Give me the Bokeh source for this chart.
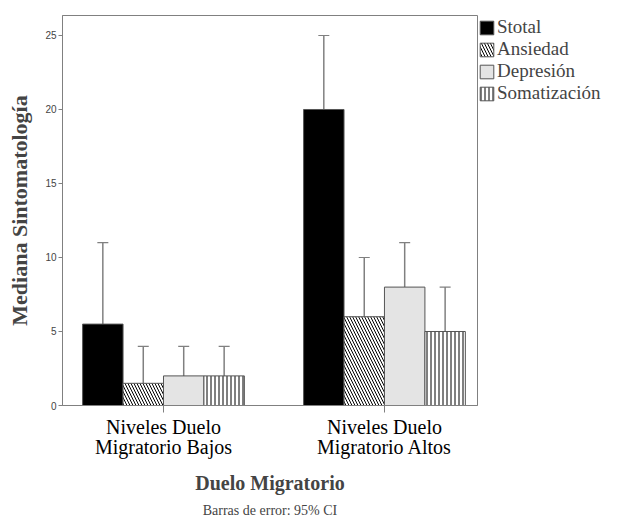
from bokeh.plotting import figure
from bokeh.models import (Range1d, FixedTicker, Legend, LegendItem, Whisker,
                          ColumnDataSource, TeeHead, Title)
from bokeh.embed import file_html
from bokeh.resources import INLINE

# ---- data ----
groups = ["Niveles Duelo\nMigratorio Bajos", "Niveles Duelo\nMigratorio Altos"]
series = ["Stotal", "Ansiedad", "Depresión", "Somatización"]
stotal = [5.5, 20.0]
ansiedad = [1.5, 6.0]
depresion = [2.0, 8.0]
somatizacion = [2.0, 5.0]
# 95% CI bounds (Stotal lower bound hidden inside its bar)
stotal_lo = [5.5, 20.0]
stotal_hi = [11.0, 25.0]
ansiedad_lo = [1.0, 4.0]
ansiedad_hi = [4.0, 10.0]
depresion_lo = [1.0, 5.0]
depresion_hi = [4.0, 11.0]
somatizacion_lo = [1.0, 3.0]
somatizacion_hi = [4.0, 8.0]
y_ticks = [0, 5, 10, 15, 20, 25]

values = [stotal, ansiedad, depresion, somatizacion]
lows = [stotal_lo, ansiedad_lo, depresion_lo, somatizacion_lo]
highs = [stotal_hi, ansiedad_hi, depresion_hi, somatizacion_hi]

# ---- styles ----
fills = ["black", "white", "#e4e4e4", "white"]
hatches = [None, "left_diagonal_line", None, "vertical_line"]
hscales = [0, 6, 0, 4]
bar_w = 0.183
offsets = [-1.5, -0.5, 0.5, 1.5]
group_pos = [1, 2]
serif = "serif"
grey = "#808080"

p = figure(frame_width=415, frame_height=390,
           x_range=Range1d(0.543, 2.421), y_range=Range1d(0, 26.35),
           output_backend="svg", toolbar_location=None,
           min_border_left=62, min_border_top=15, min_border_right=0,
           min_border_bottom=0)
p.background_fill_color = "white"
p.border_fill_color = "white"
p.outline_line_color = grey
p.xgrid.visible = False
p.ygrid.visible = False

items = []
for i, name in enumerate(series):
    xs = [g + offsets[i] * bar_w for g in group_pos]
    src = ColumnDataSource(dict(x=xs, top=values[i], lo=lows[i], hi=highs[i]))
    kw = {}
    if hatches[i]:
        kw = dict(hatch_pattern=hatches[i], hatch_color="black",
                  hatch_scale=hscales[i], hatch_weight=1)
    r = p.vbar(x="x", top="top", bottom=0, width=bar_w, source=src,
               fill_color=fills[i], line_color="#555555", line_width=1, **kw)
    items.append(LegendItem(label=name, renderers=[r]))
    lower_head = None if i == 0 else TeeHead(size=11, line_color=grey, line_width=1.2)
    w = Whisker(source=src, base="x", upper="hi", lower="lo",
                line_color=grey, line_width=1.5,
                upper_head=TeeHead(size=11, line_color=grey, line_width=1.2),
                lower_head=lower_head)
    p.add_layout(w)

legend = Legend(items=items, location="top_left", margin=0, padding=1,
                spacing=0, glyph_width=17, glyph_height=17, label_height=19,
                label_standoff=2, label_text_font=serif,
                label_text_font_size="19px", label_text_line_height=1.0,
                border_line_alpha=0, background_fill_alpha=0)
p.add_layout(legend, "right")

# y axis
p.yaxis.ticker = FixedTicker(ticks=y_ticks)
p.yaxis.axis_line_color = grey
p.yaxis.major_tick_line_color = grey
p.yaxis.major_tick_out = 4
p.yaxis.major_tick_in = 0
p.yaxis.minor_tick_line_color = None
p.yaxis.major_label_text_font = "sans-serif"
p.yaxis.major_label_text_font_size = "10px"
p.yaxis.major_label_text_color = "#444444"
p.yaxis.major_label_standoff = 2
p.yaxis.axis_label = "Mediana Sintomatología"
p.yaxis.axis_label_text_font = serif
p.yaxis.axis_label_text_font_style = "bold"
p.yaxis.axis_label_text_font_size = "22px"
p.yaxis.axis_label_standoff = 10

# x axis
p.xaxis.ticker = FixedTicker(ticks=group_pos)
p.xaxis.major_label_overrides = {group_pos[i]: groups[i] for i in range(len(groups))}
p.xaxis.axis_line_color = grey
p.xaxis.major_tick_line_color = grey
p.xaxis.major_tick_out = 7
p.xaxis.major_tick_in = 0
p.xaxis.minor_tick_line_color = None
p.xaxis.major_label_text_font = serif
p.xaxis.major_label_text_font_size = "20px"
p.xaxis.major_label_text_line_height = 0.95
p.xaxis.major_label_text_color = "black"
p.xaxis.major_label_standoff = 3
p.xaxis.axis_label = "Duelo Migratorio"
p.xaxis.axis_label_text_font = serif
p.xaxis.axis_label_text_font_style = "bold"
p.xaxis.axis_label_text_font_size = "20px"
p.xaxis.axis_label_standoff = 11

foot = Title(text="Barras de error: 95% CI", align="center", text_font=serif,
             text_font_size="14px", text_font_style="normal", offset=0,
             standoff=6)
p.add_layout(foot, "below")

open("out.html", "w").write(file_html(p, INLINE))
